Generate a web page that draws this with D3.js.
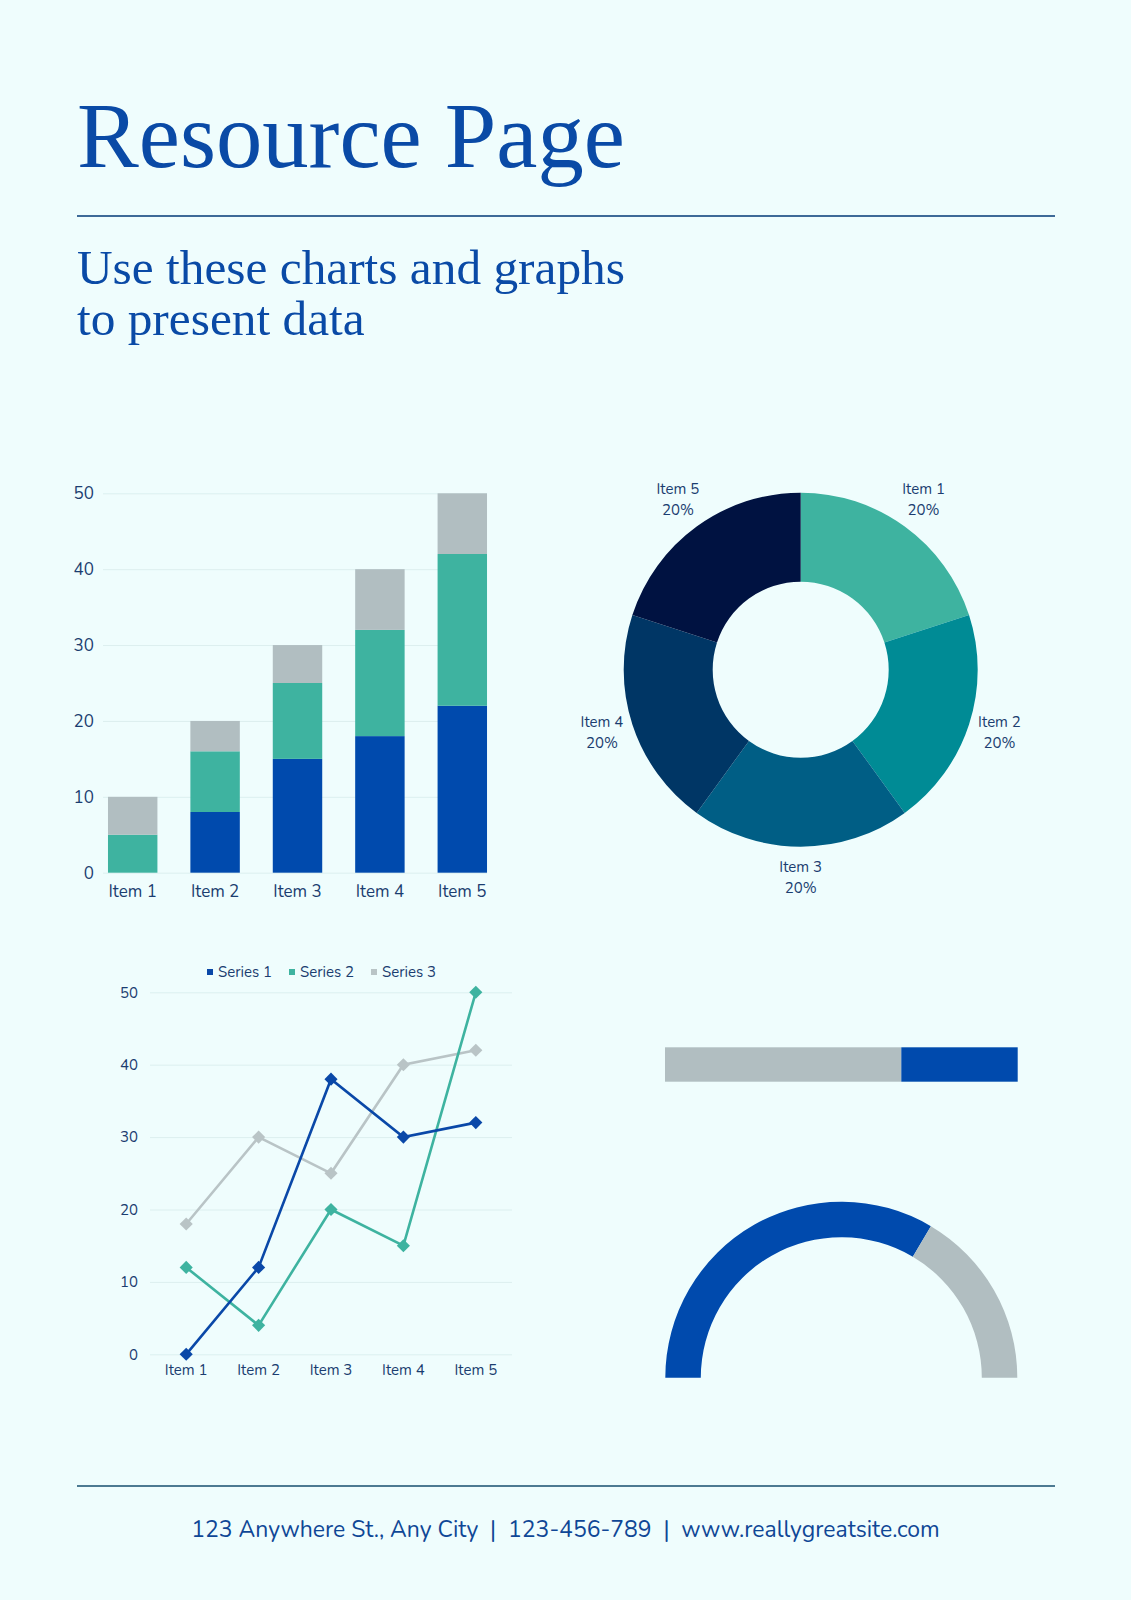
<!DOCTYPE html>
<html>
<head>
<meta charset="utf-8">
<script src="https://cdn.jsdelivr.net/npm/d3@7"></script>
<style>
  body { margin: 0; background: #effdfd; }
  svg { display: block; }
</style>
</head>
<body>
<div id="page"></div>
<script>
  // data for the stacked bar chart
  const barItems = ["Item 1", "Item 2", "Item 3", "Item 4", "Item 5"];
  const barSeries1 = [0, 8, 15, 18, 22];
  const barSeries2 = [5, 8, 10, 14, 20];
  const barSeries3 = [5, 4, 5, 8, 8];

  // data for the donut
  const donutItems = ["Item 1", "Item 2", "Item 3", "Item 4", "Item 5"];
  const donutValues = [20, 20, 20, 20, 20];

  // data for the line chart
  const lineItems = ["Item 1", "Item 2", "Item 3", "Item 4", "Item 5"];
  const lineNames = ["Series 1", "Series 2", "Series 3"];
  const lineSeries1 = [0, 12, 38, 30, 32];
  const lineSeries2 = [12, 4, 20, 15, 50];
  const lineSeries3 = [18, 30, 25, 40, 42];

  // progress bar and half gauge
  const progressValues = [67, 33];
  const gaugeValues = [67, 33];

  const yTicks = [0, 10, 20, 30, 40, 50];

  const W = 1131, H = 1600;
  const textColor = "#1b3d70";
  const sans = "Nunito, Lato, 'Noto Sans', sans-serif";
  const serif = "'Liberation Serif', 'Times New Roman', serif";

  const svg = d3.select("#page").append("svg")
    .attr("width", W)
    .attr("height", H);

  svg.append("rect")
    .attr("width", W)
    .attr("height", H)
    .attr("fill", "#effdfd");

  // fit a text element to a given width by changing its font size
  function fitWidth(sel, target) {
    const size = parseFloat(sel.attr("font-size"));
    const w = sel.node().getComputedTextLength();
    sel.attr("font-size", size * target / w);
  }

  // header
  const title = svg.append("text")
    .attr("x", 77)
    .attr("y", 167)
    .attr("font-family", serif)
    .attr("font-size", 90)
    .attr("fill", "#0a4aa6")
    .text("Resource Page");
  fitWidth(title, 548);

  svg.append("line")
    .attr("x1", 77).attr("x2", 1055)
    .attr("y1", 216).attr("y2", 216)
    .attr("stroke", "#3e6a98")
    .attr("stroke-width", 2);

  const sub1 = svg.append("text")
    .attr("x", 77)
    .attr("y", 284)
    .attr("font-family", serif)
    .attr("font-size", 48)
    .attr("fill", "#0a4aa6")
    .text("Use these charts and graphs");
  fitWidth(sub1, 548);

  svg.append("text")
    .attr("x", 77)
    .attr("y", 335)
    .attr("font-family", serif)
    .attr("font-size", sub1.attr("font-size"))
    .attr("fill", "#0a4aa6")
    .text("to present data");

  // ---------- stacked bar chart ----------
  const barColors = ["#004aad", "#3eb3a0", "#b1bec1"];

  const xBar = d3.scaleBand()
    .domain(barItems)
    .range([91.5, 503.5])
    .paddingInner(0.4)
    .paddingOuter(0.2);

  const yBar = d3.scaleLinear()
    .domain([0, 50])
    .range([872.7, 493.3]);

  // gridlines
  svg.append("g")
    .attr("transform", "translate(103,0)")
    .call(d3.axisLeft(yBar).tickValues(yTicks).tickSize(-384).tickFormat(""))
    .call(g => g.select(".domain").remove())
    .call(g => g.selectAll("line").attr("stroke", "#dcefef").attr("stroke-width", 1));

  // y labels
  svg.append("g")
    .attr("transform", "translate(94,0)")
    .call(d3.axisLeft(yBar).tickValues(yTicks).tickSize(0).tickPadding(0))
    .call(g => g.select(".domain").remove())
    .call(g => g.selectAll("text")
      .attr("font-family", sans)
      .attr("font-size", 17)
      .attr("fill", textColor));

  const stackRows = barItems.map((item, i) => ({
    item: item, s1: barSeries1[i], s2: barSeries2[i], s3: barSeries3[i]
  }));
  const stacked = d3.stack().keys(["s1", "s2", "s3"])(stackRows);

  svg.append("g")
    .selectAll("g")
    .data(stacked)
    .join("g")
    .attr("fill", (d, i) => barColors[i])
    .selectAll("rect")
    .data(d => d)
    .join("rect")
    .attr("x", d => xBar(d.data.item))
    .attr("width", xBar.bandwidth())
    .attr("y", d => yBar(d[1]))
    .attr("height", d => yBar(d[0]) - yBar(d[1]));

  // x labels
  svg.append("g")
    .attr("transform", "translate(0,873)")
    .call(d3.axisBottom(xBar).tickSize(0).tickPadding(12))
    .call(g => g.select(".domain").remove())
    .call(g => g.selectAll("text")
      .attr("font-family", sans)
      .attr("font-size", 17)
      .attr("fill", textColor));

  // ---------- donut ----------
  const donutColors = ["#3eb3a0", "#008b95", "#005e85", "#003665", "#001241"];
  const cx = 800.7, cy = 669.7;

  const pie = d3.pie().sort(null).value(d => d);
  const donutArcs = pie(donutValues);

  const arc = d3.arc().innerRadius(88).outerRadius(177);
  const labelArc = d3.arc().innerRadius(209).outerRadius(209);

  const donut = svg.append("g")
    .attr("transform", `translate(${cx},${cy})`);

  donut.selectAll("path")
    .data(donutArcs)
    .join("path")
    .attr("d", arc)
    .attr("fill", (d, i) => donutColors[i]);

  const donutLabels = donut.selectAll("text")
    .data(donutArcs)
    .join("text")
    .attr("transform", d => `translate(${labelArc.centroid(d)})`)
    .attr("text-anchor", "middle")
    .attr("font-family", sans)
    .attr("font-size", 15)
    .attr("fill", textColor);

  donutLabels.append("tspan")
    .attr("x", 0)
    .attr("y", -7)
    .text((d, i) => donutItems[i]);

  donutLabels.append("tspan")
    .attr("x", 0)
    .attr("y", 14)
    .text(d => d3.format(".0%")(d.value / d3.sum(donutValues)));

  // ---------- line chart ----------
  const lineColors = ["#0a48a8", "#3eb3a0", "#b9c4c6"];
  const lineData = [lineSeries1, lineSeries2, lineSeries3];

  const xLine = d3.scaleBand()
    .domain(lineItems)
    .range([150, 512]);

  const yLine = d3.scaleLinear()
    .domain([0, 50])
    .range([1354.3, 992.3]);

  svg.append("g")
    .attr("transform", "translate(150,0)")
    .call(d3.axisLeft(yLine).tickValues(yTicks).tickSize(-362).tickFormat(""))
    .call(g => g.select(".domain").remove())
    .call(g => g.selectAll("line").attr("stroke", "#dcefef").attr("stroke-width", 1));

  svg.append("g")
    .attr("transform", "translate(138,0)")
    .call(d3.axisLeft(yLine).tickValues(yTicks).tickSize(0).tickPadding(0))
    .call(g => g.select(".domain").remove())
    .call(g => g.selectAll("text")
      .attr("font-family", sans)
      .attr("font-size", 15)
      .attr("fill", textColor));

  svg.append("g")
    .attr("transform", "translate(0,1355)")
    .call(d3.axisBottom(xLine).tickSize(0).tickPadding(9))
    .call(g => g.select(".domain").remove())
    .call(g => g.selectAll("text")
      .attr("font-family", sans)
      .attr("font-size", 15)
      .attr("fill", textColor));

  const lineGen = d3.line()
    .x((d, i) => xLine(lineItems[i]) + xLine.bandwidth() / 2)
    .y(d => yLine(d));

  const diamond = d3.symbol().type(d3.symbolDiamond2).size(110);

  // draw series 3 first so the blue one sits on top
  [2, 1, 0].forEach(function(s) {
    svg.append("path")
      .datum(lineData[s])
      .attr("fill", "none")
      .attr("stroke", lineColors[s])
      .attr("stroke-width", 2.6)
      .attr("d", lineGen);

    svg.append("g")
      .selectAll("path")
      .data(lineData[s])
      .join("path")
      .attr("transform", (d, i) =>
        `translate(${xLine(lineItems[i]) + xLine.bandwidth() / 2},${yLine(d)})`)
      .attr("d", diamond)
      .attr("fill", lineColors[s]);
  });

  // legend
  const legendX = [210, 292, 374];
  const legend = svg.append("g")
    .selectAll("g")
    .data(lineNames)
    .join("g")
    .attr("transform", (d, i) => `translate(${legendX[i]},972)`);

  legend.append("rect")
    .attr("x", -3).attr("y", -3)
    .attr("width", 6).attr("height", 6)
    .attr("fill", (d, i) => lineColors[i]);

  legend.append("text")
    .attr("x", 8)
    .attr("y", 5)
    .attr("font-family", sans)
    .attr("font-size", 15)
    .attr("fill", textColor)
    .text(d => d);

  // ---------- progress bar ----------
  const progressColors = ["#b1bec1", "#004aad"];
  const xProg = d3.scaleLinear()
    .domain([0, d3.sum(progressValues)])
    .range([665, 1017.7]);

  const progStack = d3.cumsum([0].concat(progressValues));

  svg.append("g")
    .selectAll("rect")
    .data(progressValues)
    .join("rect")
    .attr("x", (d, i) => xProg(progStack[i]))
    .attr("width", d => xProg(d) - xProg(0))
    .attr("y", 1047.3)
    .attr("height", 34.4)
    .attr("fill", (d, i) => progressColors[i]);

  // ---------- half gauge ----------
  const gaugeColors = ["#004aad", "#b1bec1"];
  const gaugePie = d3.pie()
    .sort(null)
    .startAngle(-Math.PI / 2)
    .endAngle(Math.PI / 2)
    .value(d => d);

  const gaugeArc = d3.arc().innerRadius(140.5).outerRadius(176);

  svg.append("g")
    .attr("transform", "translate(841.3,1377.7)")
    .selectAll("path")
    .data(gaugePie(gaugeValues))
    .join("path")
    .attr("d", gaugeArc)
    .attr("fill", (d, i) => gaugeColors[i]);

  // ---------- footer ----------
  svg.append("line")
    .attr("x1", 77).attr("x2", 1055)
    .attr("y1", 1486).attr("y2", 1486)
    .attr("stroke", "#4d7a92")
    .attr("stroke-width", 2);

  const footer = svg.append("text")
    .attr("x", 565.5)
    .attr("y", 1537)
    .attr("text-anchor", "middle")
    .attr("font-family", sans)
    .attr("font-size", 21)
    .attr("fill", "#0f4796")
    .attr("xml:space", "preserve")
    .style("white-space", "pre")
    .text("123 Anywhere St., Any City  |  123-456-789  |  www.reallygreatsite.com");
  fitWidth(footer, 749);
</script>
</body>
</html>
